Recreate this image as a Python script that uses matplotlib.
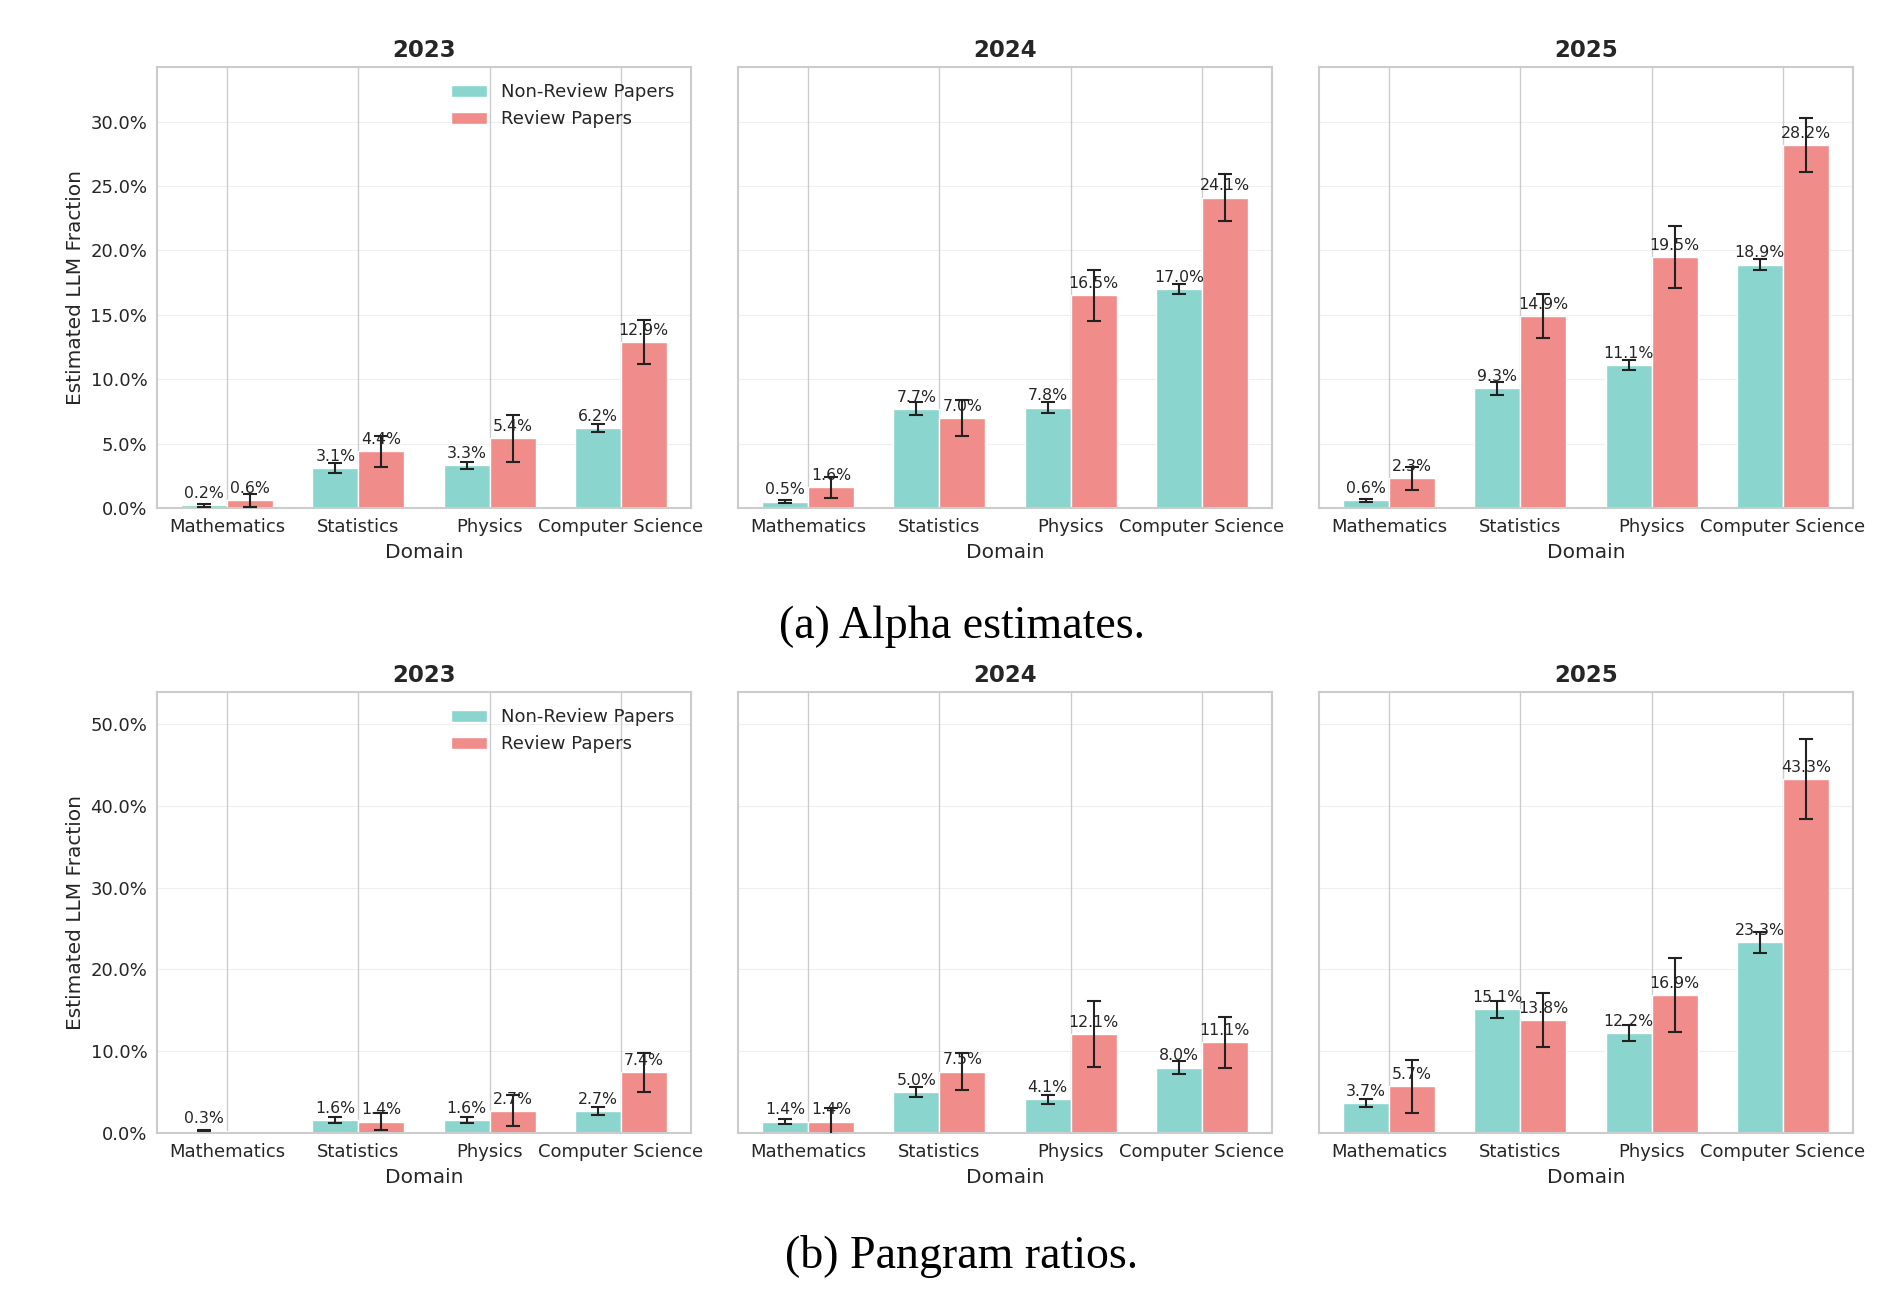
import numpy as np
import matplotlib.pyplot as plt
import seaborn as sns
from matplotlib.ticker import FuncFormatter

sns.set_style('whitegrid')
plt.rcParams['font.family'] = ['DejaVu Sans']

domains = ['Mathematics', 'Statistics', 'Physics', 'Computer Science']
years = ['2023', '2024', '2025']

# (a) alpha estimates, in percent, one row per year
alpha_nonreview = [[0.2, 3.1, 3.3, 6.2],
                   [0.5, 7.7, 7.8, 17.0],
                   [0.6, 9.3, 11.1, 18.9]]
alpha_nonreview_err = [[0.1, 0.4, 0.3, 0.3],
                       [0.1, 0.5, 0.4, 0.4],
                       [0.1, 0.5, 0.4, 0.4]]
alpha_review = [[0.6, 4.4, 5.4, 12.9],
                [1.6, 7.0, 16.5, 24.1],
                [2.3, 14.9, 19.5, 28.2]]
alpha_review_err = [[0.5, 1.2, 1.8, 1.7],
                    [0.8, 1.4, 2.0, 1.8],
                    [0.9, 1.7, 2.4, 2.1]]

# (b) pangram ratios, in percent
pangram_nonreview = [[0.3, 1.6, 1.6, 2.7],
                     [1.4, 5.0, 4.1, 8.0],
                     [3.7, 15.1, 12.2, 23.3]]
pangram_nonreview_err = [[0.1, 0.4, 0.35, 0.5],
                         [0.33, 0.6, 0.57, 0.8],
                         [0.5, 1.0, 0.94, 1.26]]
pangram_review = [[np.nan, 1.4, 2.7, 7.4],
                  [1.4, 7.5, 12.1, 11.1],
                  [5.7, 13.8, 16.9, 43.3]]
pangram_review_err = [[np.nan, 1.0, 1.9, 2.4],
                      [1.6, 2.3, 4.0, 3.1],
                      [3.2, 3.3, 4.5, 4.9]]

teal = '#8ad5cd'
red = '#f08c89'
txt = '#262626'

fig = plt.figure(figsize=(18.92, 12.9), dpi=100)

W, H = 1892, 1290
lefts = [157, 738, 1319]
ax_w = 534
ax_h = 441
row_tops = [67, 692]

rows = [
    (alpha_nonreview, alpha_nonreview_err, alpha_review, alpha_review_err, 34.24, 5),
    (pangram_nonreview, pangram_nonreview_err, pangram_review, pangram_review_err, 53.9, 10),
]

x = np.arange(len(domains))
width = 0.35
pct = FuncFormatter(lambda v, p: f'{v:.1f}%')

for r, (nr, nr_err, rv, rv_err, ymax, step) in enumerate(rows):
    first = None
    for c, year in enumerate(years):
        rect = [lefts[c] / W, 1 - (row_tops[r] + ax_h) / H, ax_w / W, ax_h / H]
        ax = fig.add_axes(rect, sharey=first)
        if first is None:
            first = ax

        ax.bar(x - width / 2, nr[c], width, color=teal, edgecolor='white',
               linewidth=1, label='Non-Review Papers', zorder=2)
        ax.bar(x + width / 2, rv[c], width, color=red, edgecolor='white',
               linewidth=1, label='Review Papers', zorder=2)

        for xs, vals in [(x - width / 2, nr[c]), (x + width / 2, rv[c])]:
            for xi, v in zip(xs, vals):
                if np.isnan(v):
                    continue
                ax.annotate(f'{v:.1f}%', (xi, v), xytext=(0, 3),
                            textcoords='offset points', ha='center', va='bottom',
                            fontsize=11.3, color=txt, zorder=3)

        ax.errorbar(x - width / 2, nr[c], yerr=nr_err[c], fmt='none',
                    ecolor='#222222', elinewidth=1.5, capsize=5, capthick=1.5, zorder=4)
        ax.errorbar(x + width / 2, rv[c], yerr=rv_err[c], fmt='none',
                    ecolor='#222222', elinewidth=1.5, capsize=5, capthick=1.5, zorder=4)

        ax.set_ylim(0, ymax)
        ax.set_yticks(np.arange(0, ymax, step))
        ax.yaxis.set_major_formatter(pct)
        ax.set_xticks(x)
        ax.set_xticklabels(domains, fontsize=13, color=txt)
        ax.tick_params(axis='y', labelsize=13, labelcolor=txt)
        ax.grid(axis='y', alpha=0.3)
        ax.grid(axis='x', color='#cccccc', linewidth=1)
        ax.set_axisbelow(True)
        for s in ax.spines.values():
            s.set_color('#cccccc')
            s.set_linewidth(1.5)

        ax.set_title(year, fontsize=16.5, fontweight='bold', color=txt, pad=7)
        ax.set_xlabel('Domain', fontsize=14.5, color=txt, labelpad=5)
        if c == 0:
            ax.set_ylabel('Estimated LLM Fraction', fontsize=14.5, color=txt)
            ax.legend(loc='upper right', frameon=False, fontsize=13)
        else:
            ax.tick_params(axis='y', labelleft=False)

fig.text(962 / W, 1 - 627 / H, '(a) Alpha estimates.', ha='center', va='center',
         fontsize=33, family='Liberation Serif', color='black')
fig.text(962 / W, 1 - 1256 / H, '(b) Pangram ratios.', ha='center', va='center',
         fontsize=33, family='Liberation Serif', color='black')

fig.savefig('out.png', dpi=100)
